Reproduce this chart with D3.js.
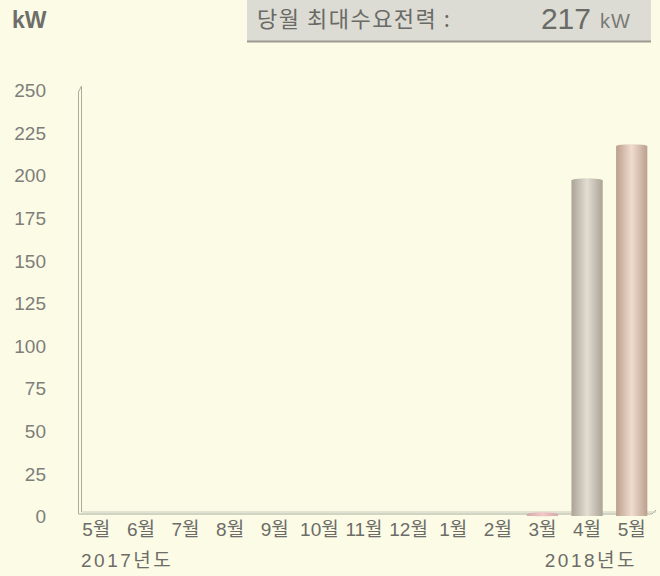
<!DOCTYPE html>
<html>
<head>
<meta charset="utf-8">
<script src="https://cdn.jsdelivr.net/npm/d3@7"></script>
<style>
  body { margin: 0; background: #fbfbe6; }
  svg { display: block; }
</style>
</head>
<body>
<div class="center"></div>
<script>
// chart data
const months = ["5월", "6월", "7월", "8월", "9월", "10월", "11월", "12월", "1월", "2월", "3월", "4월", "5월"];
const keys = months.map((m, i) => i + ":" + m);
const values = [0, 0, 0, 0, 0, 0, 0, 0, 0, 0, 1, 197, 217];
const yTicks = [0, 25, 50, 75, 100, 125, 150, 175, 200, 225, 250];
const yearLabels = ["2017년도", "2018년도"];
const maxDemand = 217;

const W = 660, H = 576;
const labelFont = "'Liberation Sans', 'Noto Sans CJK KR', sans-serif";

const svg = d3.select(".center").append("svg")
  .attr("width", W)
  .attr("height", H);

svg.append("rect").attr("width", W).attr("height", H).attr("fill", "#fbfbe6");

// scales
const xScale = d3.scaleBand().domain(keys).range([74, 654]).paddingInner(0.3).paddingOuter(0.15);
const yScale = d3.scaleLinear().domain([0, 250]).range([516, 90]);

// header
svg.append("text")
  .text("kW")
  .attr("x", 12).attr("y", 28)
  .style("font-family", "'Liberation Sans', sans-serif")
  .style("font-size", "23px")
  .style("font-weight", "700")
  .style("fill", "#6e6e6a");

svg.append("rect")
  .attr("x", 247).attr("y", 0).attr("width", 404).attr("height", 41)
  .attr("fill", "#dcdcd4");
svg.append("line")
  .attr("x1", 247).attr("x2", 651).attr("y1", 41.5).attr("y2", 41.5)
  .attr("stroke", "#9c9a92").attr("stroke-width", 2);

svg.append("text")
  .text("당월 최대수요전력 :")
  .attr("x", 257).attr("y", 27)
  .style("font-family", "'Noto Sans CJK KR', sans-serif")
  .style("font-size", "22px")
  .style("letter-spacing", "1.5px")
  .style("fill", "#6a6a66");

svg.append("text")
  .text(maxDemand)
  .attr("x", 591).attr("y", 29)
  .attr("text-anchor", "end")
  .style("font-family", "'Liberation Sans', sans-serif")
  .style("font-size", "30px")
  .style("fill", "#6a6a66");

svg.append("text")
  .text("kW")
  .attr("x", 600).attr("y", 28)
  .style("font-family", "'Liberation Sans', sans-serif")
  .style("font-size", "20px")
  .style("letter-spacing", "1px")
  .style("fill", "#7a7a76");

// Y axis (labels only, lines drawn as a double rail)
const yAxis = d3.axisLeft(yScale).tickValues(yTicks).tickSize(0).tickPadding(0);
const yg = svg.append("g").attr("transform", "translate(46,0)").call(yAxis);
yg.select(".domain").remove();
yg.selectAll("text")
  .style("font-family", labelFont)
  .style("font-size", "19px")
  .style("fill", "#7e7e7a")
  .attr("dy", "0.35em");

// axis rail
const rail = svg.append("g").attr("fill", "none").attr("stroke", "#a8ad9c").attr("stroke-width", 1);
rail.append("path").attr("d", `M78.5,${yScale(0) - 2} L78.5,${yScale(250) + 2} L81.5,${yScale(250) - 4} L81.5,${yScale(0) - 4}`);

// floor
rail.append("path")
  .attr("d", `M78.5,${yScale(0) - 2} L652,${yScale(0) - 2} L656,${yScale(0) - 6}`)
  .attr("stroke", "#a8ad9c");
rail.append("path")
  .attr("d", `M81.5,${yScale(0) - 4} L656,${yScale(0) - 4}`)
  .attr("stroke", "#c8cbbd");

// gradients for cylinders
const defs = svg.append("defs");
const grads = [
  {id: "g4", edge: "#aaa396", mid: "#e4ddd2"},
  {id: "g5", edge: "#bb9f8e", mid: "#f0dccd"},
  {id: "g0", edge: "#d8a8a8", mid: "#f0c8c8"}
];
grads.forEach(g => {
  const lg = defs.append("linearGradient").attr("id", g.id).attr("x1", "0").attr("x2", "1").attr("y1", "0").attr("y2", "0");
  lg.append("stop").attr("offset", "0%").attr("stop-color", g.edge);
  lg.append("stop").attr("offset", "50%").attr("stop-color", g.mid);
  lg.append("stop").attr("offset", "100%").attr("stop-color", g.edge);
});

const data = keys.map((k, i) => ({key: k, value: values[i], i}));
const fillOf = d => d.i === 11 ? "url(#g4)" : d.i === 12 ? "url(#g5)" : "url(#g0)";

const bars = svg.selectAll(".bar")
  .data(data.filter(d => d.value > 0))
  .enter().append("g").attr("class", "bar");

bars.append("rect")
  .attr("x", d => xScale(d.key))
  .attr("y", d => yScale(d.value))
  .attr("width", xScale.bandwidth())
  .attr("height", d => yScale(0) - yScale(d.value))
  .attr("fill", fillOf);

bars.append("ellipse")
  .attr("cx", d => xScale(d.key) + xScale.bandwidth() / 2)
  .attr("cy", d => yScale(d.value))
  .attr("rx", xScale.bandwidth() / 2)
  .attr("ry", 2)
  .attr("fill", fillOf);

// X axis labels
const xAxis = d3.axisBottom(xScale).tickSize(0).tickPadding(0).tickFormat(k => k.split(":")[1]);
const xg = svg.append("g").attr("transform", "translate(0,519)").call(xAxis);
xg.select(".domain").remove();
xg.selectAll("text")
  .attr("dy", "0.9em")
  .style("font-family", labelFont)
  .style("font-size", "19px")
  .style("fill", "#6c6c68");

// year labels
svg.append("text")
  .text(yearLabels[0])
  .attr("x", 81).attr("y", 567)
  .style("font-family", labelFont)
  .style("font-size", "19px")
  .style("letter-spacing", "2.5px")
  .style("fill", "#6c6c68");

svg.append("text")
  .text(yearLabels[1])
  .attr("x", 637).attr("y", 567)
  .attr("text-anchor", "end")
  .style("font-family", labelFont)
  .style("font-size", "19px")
  .style("letter-spacing", "2.5px")
  .style("fill", "#6c6c68");
</script>
</body>
</html>
